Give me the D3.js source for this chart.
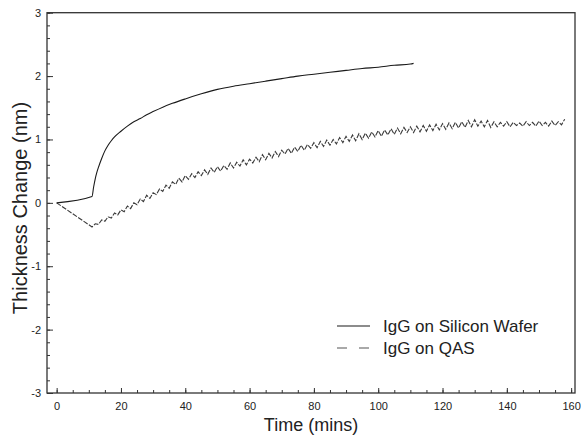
<!DOCTYPE html>
<html>
<head>
<meta charset="utf-8">
<script src="https://cdn.jsdelivr.net/npm/d3@7"></script>
<style>
  body { margin: 0; background: #fff; }
  svg text { font-family: "Liberation Sans", Arial, Helvetica, sans-serif; fill: #222; }
</style>
</head>
<body>
<div id="chart"></div>
<script>
// plot frame inside the 581x441 page
const LEFT = 47, RIGHT = 575, TOP = 12.7, BOTTOM = 393;

// IgG on Silicon Wafer (smooth curve)
const waferTime = [0, 11, 11.5, 12, 12.5, 13, 14, 15, 16, 17, 18, 20, 22, 24, 26, 28, 30, 33, 36, 40,
    45, 50, 55, 60, 65, 70, 75, 80, 85, 90, 95, 100, 105, 110, 111];
const waferThick = [0, 0.10, 0.25, 0.38, 0.48, 0.56, 0.70, 0.82, 0.91, 0.98, 1.04, 1.13, 1.21, 1.28, 1.33, 1.39, 1.44, 1.51, 1.57, 1.64,
    1.72, 1.79, 1.84, 1.88, 1.92, 1.96, 2.00, 2.03, 2.06, 2.09, 2.12, 2.14, 2.17, 2.19, 2.20];

// IgG on QAS (noisy trace, one reading per minute after the 11 min dip)
const qasTime = [0, 11, 12, 13, 14, 15, 16, 17, 18, 19, 20, 21, 22, 23, 24, 25, 26, 27, 28, 29, 30,
    31, 32, 33, 34, 35, 36, 37, 38, 39, 40, 41, 42, 43, 44, 45, 46, 47, 48, 49, 50,
    51, 52, 53, 54, 55, 56, 57, 58, 59, 60, 61, 62, 63, 64, 65, 66, 67, 68, 69, 70,
    71, 72, 73, 74, 75, 76, 77, 78, 79, 80, 81, 82, 83, 84, 85, 86, 87, 88, 89, 90,
    91, 92, 93, 94, 95, 96, 97, 98, 99, 100, 101, 102, 103, 104, 105, 106, 107, 108, 109, 110,
    111, 112, 113, 114, 115, 116, 117, 118, 119, 120, 121, 122, 123, 124, 125, 126, 127, 128, 129, 130,
    131, 132, 133, 134, 135, 136, 137, 138, 139, 140, 141, 142, 143, 144, 145, 146, 147, 148, 149, 150,
    151, 152, 153, 154, 155, 156, 157, 158];
const qasThick = [0, -0.38, -0.33, -0.34, -0.27, -0.29, -0.22, -0.24, -0.16, -0.19, -0.11, -0.14, -0.05, -0.09, 0.00, -0.03, 0.06, 0.02, 0.12, 0.07, 0.16,
    0.13, 0.22, 0.18, 0.28, 0.23, 0.33, 0.29, 0.39, 0.33, 0.43, 0.37, 0.46, 0.40, 0.49, 0.43, 0.52, 0.45, 0.55, 0.48, 0.57,
    0.50, 0.59, 0.53, 0.63, 0.55, 0.64, 0.58, 0.68, 0.60, 0.69, 0.63, 0.72, 0.65, 0.76, 0.68, 0.78, 0.71, 0.81, 0.73, 0.83,
    0.77, 0.86, 0.78, 0.88, 0.81, 0.91, 0.83, 0.92, 0.86, 0.95, 0.87, 0.97, 0.89, 0.99, 0.91, 1.00, 0.93, 1.03, 0.95, 1.05,
    0.97, 1.07, 0.98, 1.09, 1.00, 1.10, 1.02, 1.12, 1.04, 1.14, 1.05, 1.15, 1.07, 1.17, 1.08, 1.18, 1.09, 1.19, 1.11, 1.20,
    1.11, 1.21, 1.12, 1.22, 1.13, 1.23, 1.14, 1.24, 1.15, 1.25, 1.16, 1.26, 1.17, 1.27, 1.18, 1.28, 1.19, 1.30, 1.20, 1.31,
    1.21, 1.29, 1.20, 1.30, 1.19, 1.28, 1.20, 1.27, 1.21, 1.28, 1.20, 1.27, 1.22, 1.26, 1.21, 1.28, 1.22, 1.27, 1.21, 1.29,
    1.22, 1.27, 1.21, 1.29, 1.22, 1.28, 1.23, 1.32];

const xTicks = [0, 20, 40, 60, 80, 100, 120, 140, 160];
const yTicks = [-3, -2, -1, 0, 1, 2, 3];

const svg = d3.select('#chart')
    .append('svg')
    .attr('width', 581)
    .attr('height', 441);

const x = d3.scaleLinear()
    .domain([-3, 161.2])
    .range([LEFT, RIGHT]);

const y = d3.scaleLinear()
    .domain([-3, 3])
    .range([BOTTOM, TOP]);

// minor ticks first (no labels)
svg.append('g')
    .attr('transform', 'translate(0,' + BOTTOM + ')')
    .call(d3.axisBottom(x).tickValues(d3.range(0, 161, 5)).tickSize(-3).tickFormat(''))
    .call(g => g.select('.domain').remove());

svg.append('g')
    .attr('transform', 'translate(' + LEFT + ',0)')
    .call(d3.axisLeft(y).tickValues(d3.range(-3, 3.01, 0.2)).tickSize(-3).tickFormat(''))
    .call(g => g.select('.domain').remove());

// major ticks + labels, pointing inward
let xAxis = svg.append('g')
    .attr('transform', 'translate(0,' + BOTTOM + ')')
    .call(d3.axisBottom(x).tickValues(xTicks).tickSize(-5).tickPadding(9)
        .tickSizeOuter(0).tickFormat(d => String(d)));

let yAxis = svg.append('g')
    .attr('transform', 'translate(' + LEFT + ',0)')
    .call(d3.axisLeft(y).tickValues(yTicks).tickSize(-6).tickPadding(6)
        .tickSizeOuter(0).tickFormat(d => String(d)));

[xAxis, yAxis].forEach(g => {
    g.selectAll('text').style('font-size', '11px');
    g.select('.domain').remove();
});
svg.selectAll('.tick line').attr('stroke', '#333');

// frame
svg.append('rect')
    .attr('x', LEFT)
    .attr('y', TOP)
    .attr('width', RIGHT - LEFT)
    .attr('height', BOTTOM - TOP)
    .attr('fill', 'none')
    .attr('stroke', '#333')
    .attr('stroke-width', 1.3);

// axis titles
svg.append('text')
    .attr('x', 311)
    .attr('y', 431)
    .attr('text-anchor', 'middle')
    .style('font-size', '18px')
    .text('Time (mins)');

svg.append('text')
    .attr('transform', 'translate(27,208) rotate(-90)')
    .attr('text-anchor', 'middle')
    .style('font-size', '20px')
    .text('Thickness Change (nm)');

// the lines
const wafer = waferTime.map((t, i) => ({ t: t, v: waferThick[i] }));
const qas = qasTime.map((t, i) => ({ t: t, v: qasThick[i] }));

svg.append('path')
    .datum(qas)
    .attr('fill', 'none')
    .attr('stroke', '#3a3a3a')
    .attr('stroke-width', 1.1)
    .attr('stroke-dasharray', '5,1.5')
    .attr('d', d3.line()
        .x(d => x(d.t))
        .y(d => y(d.v)));

svg.append('path')
    .datum(wafer)
    .attr('fill', 'none')
    .attr('stroke', '#1a1a1a')
    .attr('stroke-width', 1.1)
    .attr('d', d3.line()
        .curve(d3.curveMonotoneX)
        .x(d => x(d.t))
        .y(d => y(d.v)));

// legend
const legend = [
    { name: 'IgG on Silicon Wafer', dash: null, color: '#1a1a1a', yPos: 326 },
    { name: 'IgG on QAS', dash: '10,12', color: '#555', yPos: 348 }
];
legend.forEach(item => {
    svg.append('line')
        .attr('x1', 337).attr('x2', 370)
        .attr('y1', item.yPos).attr('y2', item.yPos)
        .attr('stroke', item.color)
        .attr('stroke-width', 1.2)
        .attr('stroke-dasharray', item.dash);
    svg.append('text')
        .attr('x', 383)
        .attr('y', item.yPos)
        .attr('dy', '0.35em')
        .style('font-size', '17px')
        .text(item.name);
});
</script>
</body>
</html>
